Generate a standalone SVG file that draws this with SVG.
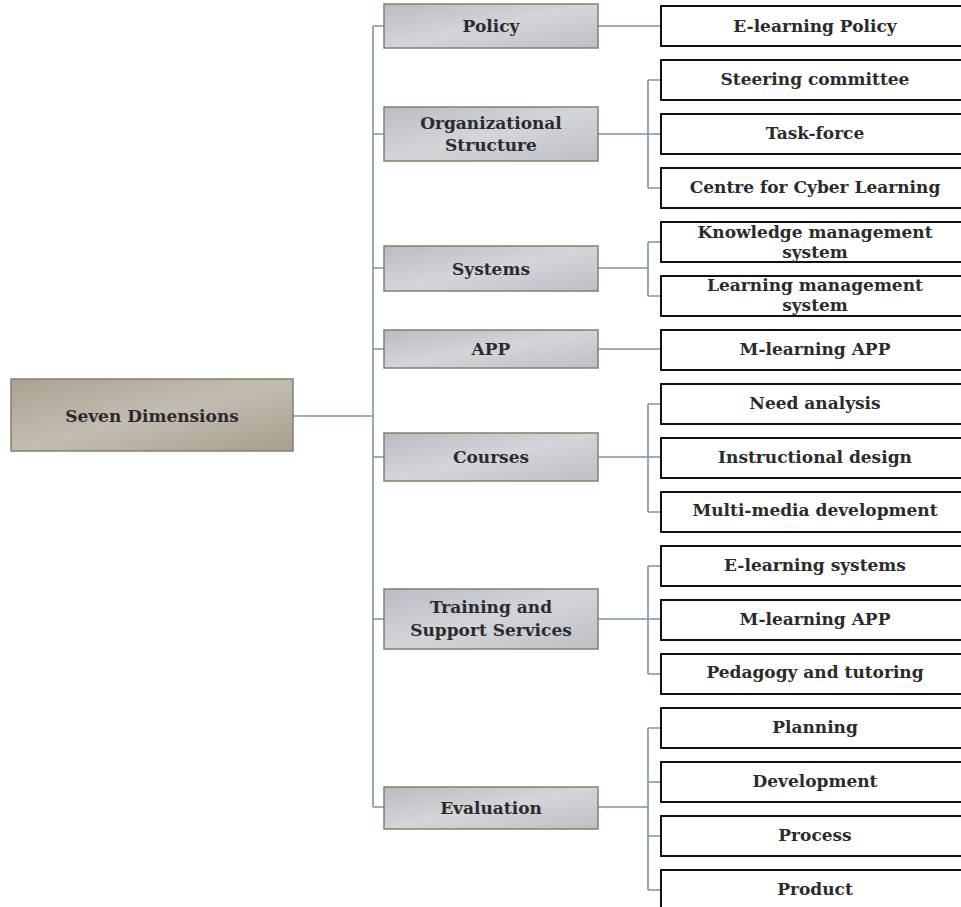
<svg xmlns="http://www.w3.org/2000/svg" width="961" height="907" viewBox="0 0 961 907">
<defs>
<linearGradient id="gRoot" x1="0" y1="0" x2="1" y2="1">
<stop offset="0" stop-color="#aaa293"/>
<stop offset="0.5" stop-color="#c2bdb1"/>
<stop offset="1" stop-color="#a69e8e"/>
</linearGradient>
<linearGradient id="gMid" x1="0" y1="0" x2="1" y2="1">
<stop offset="0" stop-color="#b9bcc2"/>
<stop offset="0.5" stop-color="#d3d5d9"/>
<stop offset="1" stop-color="#bcbfc4"/>
</linearGradient>
</defs>
<style>
.root{fill:url(#gRoot);stroke:#8b7e65;stroke-width:1.5}
.mid{fill:url(#gMid);stroke:#8b7e65;stroke-width:1.5}
.leaf{fill:#ffffff;stroke:#111;stroke-width:2}
.t{font-family:"DejaVu Serif","Liberation Serif",serif;font-weight:bold;font-size:17px;fill:#2b2b2b;text-anchor:middle}
.c{fill:none;stroke:#7b97a6;stroke-width:1.6}
</style>
<rect width="961" height="907" fill="#ffffff"/>
<g id="connectors">
<path class="c" d="M293,416 H373 M373,26 V807"/>
<path class="c" d="M373,26 H384 M373,134 H384 M373,268 H384 M373,349 H384 M373,457 H384 M373,619 H384 M373,807 H384"/>
<path class="c" d="M598,26 H661"/>
<path class="c" d="M598,134 H661 M648,80 V188 M648,80 H661 M648,188 H661"/>
<path class="c" d="M598,268 H648 M648,242 V296 M648,242 H661 M648,296 H661"/>
<path class="c" d="M598,349 H661"/>
<path class="c" d="M598,457 H661 M648,404 V512 M648,404 H661 M648,512 H661"/>
<path class="c" d="M598,619 H661 M648,566 V674 M648,566 H661 M648,674 H661"/>
<path class="c" d="M598,807 H648 M648,728 V890 M648,728 H661 M648,782 H661 M648,836 H661 M648,890 H661"/>
</g>
<g id="root"><rect class="root" x="11" y="379" width="282" height="72"/><text class="t" x="152" y="422">Seven Dimensions</text></g>
<g id="policy"><rect class="mid" x="384" y="4" width="214" height="44"/><text class="t" x="491" y="32">Policy</text></g>
<g id="org"><rect class="mid" x="384" y="107" width="214" height="54"/><text class="t" x="491" y="129">Organizational</text><text class="t" x="491" y="151">Structure</text></g>
<g id="systems"><rect class="mid" x="384" y="246" width="214" height="45"/><text class="t" x="491" y="275">Systems</text></g>
<g id="app"><rect class="mid" x="384" y="330" width="214" height="38"/><text class="t" x="491" y="355">APP</text></g>
<g id="courses"><rect class="mid" x="384" y="433" width="214" height="48"/><text class="t" x="491" y="463">Courses</text></g>
<g id="training"><rect class="mid" x="384" y="589" width="214" height="60"/><text class="t" x="491" y="613">Training and</text><text class="t" x="491" y="636">Support Services</text></g>
<g id="evaluation"><rect class="mid" x="384" y="787" width="214" height="42"/><text class="t" x="491" y="814">Evaluation</text></g>
<g id="l0"><rect class="leaf" x="661" y="6" width="310" height="40"/><text class="t" x="815" y="32">E-learning Policy</text></g>
<g id="l1"><rect class="leaf" x="661" y="60" width="310" height="40"/><text class="t" x="815" y="85">Steering committee</text></g>
<g id="l2"><rect class="leaf" x="661" y="114" width="310" height="40"/><text class="t" x="815" y="139">Task-force</text></g>
<g id="l3"><rect class="leaf" x="661" y="168" width="310" height="40"/><text class="t" x="815" y="193">Centre for Cyber Learning</text></g>
<g id="l4"><rect class="leaf" x="661" y="222" width="310" height="40"/><text class="t" x="815" y="238">Knowledge management</text><text class="t" x="815" y="258">system</text></g>
<g id="l5"><rect class="leaf" x="661" y="276" width="310" height="40"/><text class="t" x="815" y="291">Learning management</text><text class="t" x="815" y="311">system</text></g>
<g id="l6"><rect class="leaf" x="661" y="330" width="310" height="40"/><text class="t" x="815" y="355">M-learning APP</text></g>
<g id="l7"><rect class="leaf" x="661" y="384" width="310" height="40"/><text class="t" x="815" y="409">Need analysis</text></g>
<g id="l8"><rect class="leaf" x="661" y="438" width="310" height="40"/><text class="t" x="815" y="463">Instructional design</text></g>
<g id="l9"><rect class="leaf" x="661" y="492" width="310" height="40"/><text class="t" x="815" y="516">Multi-media development</text></g>
<g id="l10"><rect class="leaf" x="661" y="546" width="310" height="40"/><text class="t" x="815" y="571">E-learning systems</text></g>
<g id="l11"><rect class="leaf" x="661" y="600" width="310" height="40"/><text class="t" x="815" y="625">M-learning APP</text></g>
<g id="l12"><rect class="leaf" x="661" y="654" width="310" height="40"/><text class="t" x="815" y="678">Pedagogy and tutoring</text></g>
<g id="l13"><rect class="leaf" x="661" y="708" width="310" height="40"/><text class="t" x="815" y="733">Planning</text></g>
<g id="l14"><rect class="leaf" x="661" y="762" width="310" height="40"/><text class="t" x="815" y="787">Development</text></g>
<g id="l15"><rect class="leaf" x="661" y="816" width="310" height="40"/><text class="t" x="815" y="841">Process</text></g>
<g id="l16"><rect class="leaf" x="661" y="870" width="310" height="40"/><text class="t" x="815" y="895">Product</text></g>
</svg>
